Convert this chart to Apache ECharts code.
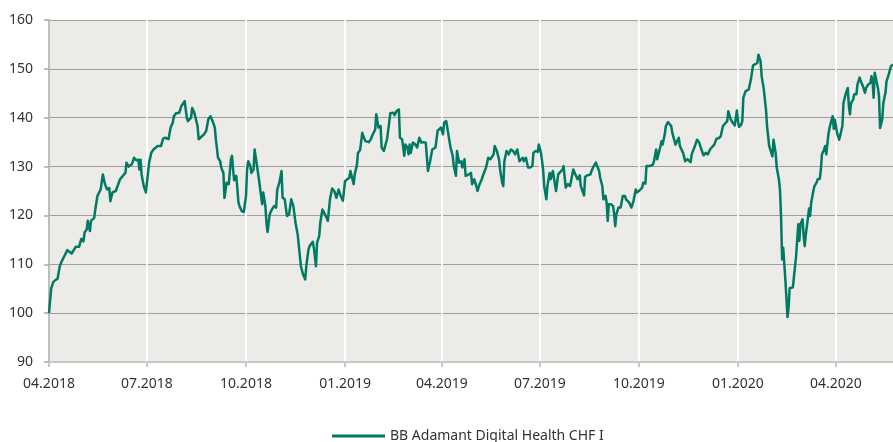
<!DOCTYPE html>
<html>
<head>
<meta charset="utf-8">
<script src="https://cdn.jsdelivr.net/npm/echarts@6/dist/echarts.min.js"></script>
<style>html,body{margin:0;padding:0;background:#fff}#c{width:893px;height:442px}</style>
</head>
<body>
<div id="c"></div>
<script>
const seriesName = 'BB Adamant Digital Health CHF I';
const startDate = '2018-04-01';
const endDate = '2020-05-24';
const yTicks = [90, 100, 110, 120, 130, 140, 150, 160];

const points2018 = [
['2018-04-01',100],['2018-04-03',105],['2018-04-05',106.4],['2018-04-09',107.1],['2018-04-11',109.6],['2018-04-13',110.7],['2018-04-16',112],['2018-04-18',112.9],['2018-04-22',112.2],['2018-04-26',113.6],['2018-04-29',113.6],['2018-04-30',113.4],
['2018-05-01',115.2],['2018-05-03',114.7],['2018-05-04',116.5],['2018-05-06',117.1],['2018-05-07',118.9],['2018-05-09',116.8],['2018-05-10',118.9],['2018-05-13',119.5],['2018-05-14',121.2],['2018-05-16',124],['2018-05-19',125.3],['2018-05-21',128.4],['2018-05-23',126.4],['2018-05-25',125.3],['2018-05-27',125.6],['2018-05-28',122.9],['2018-05-30',124.7],
['2018-06-02',125],['2018-06-06',127.4],['2018-06-09',128.2],['2018-06-11',128.7],['2018-06-12',130.8],['2018-06-14',130],['2018-06-17',130.5],['2018-06-19',131.8],['2018-06-21',131.3],['2018-06-23',131.4],['2018-06-24',129.4],['2018-06-25',131.4],['2018-06-26',128.4],['2018-06-28',126],['2018-06-30',124.7],
['2018-07-03',130.8],['2018-07-05',132.8],['2018-07-07',133.5],['2018-07-11',134.2],['2018-07-12',134.5],['2018-07-14',134.2],['2018-07-16',135.7],['2018-07-18',135.9],['2018-07-21',135.6],['2018-07-23',138],['2018-07-25',139],['2018-07-26',140.3],['2018-07-28',140.9],['2018-07-29',140.5],['2018-07-31',141],
['2018-08-02',142.4],['2018-08-05',143.4],['2018-08-07',140],['2018-08-08',139.3],['2018-08-11',140],['2018-08-12',142],['2018-08-14',141],['2018-08-15',140.7],['2018-08-17',138.3],['2018-08-18',135.6],['2018-08-21',136.2],['2018-08-23',136.6],['2018-08-25',137.3],['2018-08-27',139.7],['2018-08-29',140.3],['2018-08-31',139.3],
['2018-09-02',138],['2018-09-03',135.6],['2018-09-05',131.8],['2018-09-07',131.1],['2018-09-08',129.8],['2018-09-10',128.7],['2018-09-11',123.6],['2018-09-12',123.3],['2018-09-13',126.7],['2018-09-14',126.8],['2018-09-15',126.4],['2018-09-17',131.5],['2018-09-18',132.2],['2018-09-19',129.4],['2018-09-20',127.2],['2018-09-22',128.1],['2018-09-24',122.6],['2018-09-25',121.9],['2018-09-27',120.9],['2018-09-29',120.7],
['2018-10-01',124],['2018-10-02',129.4],['2018-10-03',131.1],['2018-10-05',130.1],['2018-10-06',128.7],['2018-10-08',129.4],['2018-10-09',133.5],['2018-10-11',130.5],['2018-10-13',127.4],['2018-10-15',124],['2018-10-16',122.3],['2018-10-17',124.7],['2018-10-19',121.9],['2018-10-20',118.5],['2018-10-21',116.6],['2018-10-23',120.2],['2018-10-25',121.2],['2018-10-27',121.9],['2018-10-29',121.6],['2018-10-30',125.3],
['2018-11-01',126.7],['2018-11-03',129.1],['2018-11-04',123.6],['2018-11-06',123.3],['2018-11-08',119.9],['2018-11-10',120.2],['2018-11-12',123.3],['2018-11-14',121.9],['2018-11-16',118.5],['2018-11-18',116.1],['2018-11-19',115.8],['2018-11-21',109.6],['2018-11-23',107.9],['2018-11-25',106.9],['2018-11-26',109.6],['2018-11-28',113],['2018-11-29',113.7],
['2018-12-02',114.6],['2018-12-03',113.4],['2018-12-05',109.6],['2018-12-06',114.4],['2018-12-08',115.8],['2018-12-09',118.5],['2018-12-11',121.2],['2018-12-12',121.6],['2018-12-15',119.5],['2018-12-16',118.9],['2018-12-18',123.3],['2018-12-20',125.5],['2018-12-22',125],['2018-12-24',123.6],['2018-12-26',125.3],['2018-12-28',124],['2018-12-30',123]
];

const points2019 = [
['2019-01-01',127],['2019-01-03',127.4],['2019-01-05',127.7],['2019-01-06',129.1],['2019-01-09',126.4],['2019-01-10',128.4],['2019-01-12',130.3],['2019-01-13',132.8],['2019-01-15',133.4],['2019-01-17',136.9],['2019-01-18',136.2],['2019-01-20',135.2],['2019-01-23',135],['2019-01-25',135.6],['2019-01-26',136.2],['2019-01-27',135.9],['2019-01-29',137.6],['2019-01-30',140.7],
['2019-02-01',138],['2019-02-03',138.3],['2019-02-04',133.9],['2019-02-06',133.2],['2019-02-07',133.4],['2019-02-09',135.6],['2019-02-11',139],['2019-02-12',140.9],['2019-02-15',141],['2019-02-16',140.5],['2019-02-18',141.4],['2019-02-20',141.7],['2019-02-21',135.9],['2019-02-23',135.6],['2019-02-24',135.2],['2019-02-25',132.2],['2019-02-26',134.5],['2019-02-28',133.9],
['2019-03-01',132.5],['2019-03-02',134.5],['2019-03-03',132.8],['2019-03-05',134.9],['2019-03-07',134.6],['2019-03-09',133.9],['2019-03-11',135.9],['2019-03-13',134.9],['2019-03-15',135],['2019-03-17',134.9],['2019-03-19',129.1],['2019-03-21',131.1],['2019-03-23',133.5],['2019-03-26',133.9],['2019-03-28',137.3],['2019-03-29',137.7],['2019-03-31',138],
['2019-04-02',136.6],['2019-04-03',139],['2019-04-05',139.3],['2019-04-06',139.2],['2019-04-08',135.2],['2019-04-09',133.9],['2019-04-11',132.2],['2019-04-12',130.1],['2019-04-14',128.1],['2019-04-15',133.2],['2019-04-17',130.8],['2019-04-19',131.1],['2019-04-20',129.8],['2019-04-22',131.5],['2019-04-23',128.1],['2019-04-26',128.4],['2019-04-28',128.7],['2019-04-29',126.4],
['2019-05-01',127.4],['2019-05-03',126],['2019-05-04',125],['2019-05-06',126.4],['2019-05-08',127.4],['2019-05-10',128.7],['2019-05-12',129.8],['2019-05-14',131.8],['2019-05-16',131.5],['2019-05-19',132.5],['2019-05-20',134.2],['2019-05-22',133.2],['2019-05-24',131.5],['2019-05-25',129.4],['2019-05-27',126.7],['2019-05-28',126],['2019-05-29',131.1],['2019-05-31',133.2],
['2019-06-02',132.5],['2019-06-04',133.5],['2019-06-06',133.2],['2019-06-08',132.5],['2019-06-10',133.5],['2019-06-12',131.1],['2019-06-13',130.8],['2019-06-15',131.8],['2019-06-16',131.1],['2019-06-18',131.8],['2019-06-20',129.8],['2019-06-22',129.8],['2019-06-24',130.1],['2019-06-25',132.8],['2019-06-27',133.2],['2019-06-29',133],['2019-06-30',134.5],
['2019-07-02',132.8],['2019-07-04',129.4],['2019-07-05',126],['2019-07-07',123.3],['2019-07-08',126],['2019-07-10',128.7],['2019-07-11',127.4],['2019-07-13',129.1],['2019-07-14',128.8],['2019-07-16',125],['2019-07-18',128.4],['2019-07-19',128.4],['2019-07-22',129.4],['2019-07-23',130.1],['2019-07-25',125.7],['2019-07-27',126.4],['2019-07-29',126],
['2019-08-01',129.4],['2019-08-03',128.4],['2019-08-05',127.4],['2019-08-07',128.2],['2019-08-08',126],['2019-08-09',125.7],['2019-08-11',124.1],['2019-08-12',127.9],['2019-08-14',128.2],['2019-08-17',128.4],['2019-08-18',129.1],['2019-08-20',130.1],['2019-08-22',130.8],['2019-08-23',130.5],['2019-08-25',129.1],['2019-08-26',127.7],['2019-08-28',126],['2019-08-29',123.3],['2019-08-31',124],
['2019-09-01',122.6],['2019-09-02',118.9],['2019-09-03',122.3],['2019-09-05',122.3],['2019-09-07',121.9],['2019-09-08',120.2],['2019-09-09',117.8],['2019-09-10',120.2],['2019-09-12',121.6],['2019-09-14',121.6],['2019-09-16',124],['2019-09-18',124],['2019-09-19',123.3],['2019-09-22',122.6],['2019-09-24',121.6],['2019-09-26',123],['2019-09-28',125.3],['2019-09-29',124.7],
['2019-10-01',125],['2019-10-04',125.7],['2019-10-05',126.7],['2019-10-07',126.5],['2019-10-08',130.1],['2019-10-11',130.1],['2019-10-14',130.4],['2019-10-15',131.1],['2019-10-17',133.5],['2019-10-18',131.5],['2019-10-19',131.2],['2019-10-21',134.2],['2019-10-22',135.2],['2019-10-23',134.5],['2019-10-25',136.6],['2019-10-26',138.3],['2019-10-28',139.1],['2019-10-29',138.8],['2019-10-31',138.3],
['2019-11-01',136.9],['2019-11-04',134.5],['2019-11-05',134.9],['2019-11-07',135.9],['2019-11-08',134.2],['2019-11-11',132.8],['2019-11-13',131.1],['2019-11-15',131.5],['2019-11-18',130.9],['2019-11-19',132.5],['2019-11-22',134.2],['2019-11-24',135.5],['2019-11-26',134.9],['2019-11-28',133.5],['2019-11-30',132.3],
['2019-12-02',132.8],['2019-12-04',132.5],['2019-12-06',133.5],['2019-12-08',134],['2019-12-10',134.5],['2019-12-12',135.7],['2019-12-14',135.8],['2019-12-16',136.2],['2019-12-18',138.3],['2019-12-19',138.6],['2019-12-22',139.3],['2019-12-23',141.3],['2019-12-25',139.8],['2019-12-27',139],['2019-12-29',138.4],['2019-12-31',141.5]
];

const points2020 = [
['2020-01-01',139.3],['2020-01-02',138.1],['2020-01-04',138.6],['2020-01-05',139.3],['2020-01-06',144.1],['2020-01-08',145.4],['2020-01-09',145.1],['2020-01-11',145.8],['2020-01-13',147.8],['2020-01-15',150.7],['2020-01-16',151.1],['2020-01-19',151.2],['2020-01-20',152.9],['2020-01-22',151.6],['2020-01-23',148.5],['2020-01-25',145.8],['2020-01-27',141.7],['2020-01-28',138.3],['2020-01-30',134.2],
['2020-02-02',132.1],['2020-02-03',135.5],['2020-02-04',135.9],['2020-02-05',132.8],['2020-02-06',129.8],['2020-02-08',127.4],['2020-02-09',125.3],['2020-02-10',119.9],['2020-02-11',111],['2020-02-12',113.4],['2020-02-13',113],['2020-02-14',106.9],['2020-02-16',99.2],['2020-02-17',101],['2020-02-18',105.1],['2020-02-19',105.5],['2020-02-21',105.3],['2020-02-22',104.9],['2020-02-24',111.7],['2020-02-26',118.2],['2020-02-27',114.8],['2020-02-28',118.2],
['2020-03-01',119.2],['2020-03-02',115.8],['2020-03-03',113.7],['2020-03-04',116.1],['2020-03-06',119.5],['2020-03-07',121.4],['2020-03-08',119.9],['2020-03-09',122.6],['2020-03-11',125],['2020-03-12',126],['2020-03-14',126.7],['2020-03-15',127.4],['2020-03-17',127.5],['2020-03-18',129.4],['2020-03-19',132.5],['2020-03-21',133.5],['2020-03-22',134.2],['2020-03-23',132.5],['2020-03-25',136.6],['2020-03-26',137.9],['2020-03-28',139.6],['2020-03-29',140.3],['2020-03-30',137.7],['2020-03-31',139.6],
['2020-04-02',136.9],['2020-04-04',135.5],['2020-04-05',135.2],['2020-04-07',138.3],['2020-04-08',143],['2020-04-09',143.4],['2020-04-10',144.8],['2020-04-12',146.1],['2020-04-13',142.4],['2020-04-14',140.7],['2020-04-15',143],['2020-04-17',143.7],['2020-04-18',144.8],['2020-04-20',144.8],['2020-04-21',146.8],['2020-04-23',148.2],['2020-04-24',147.5],['2020-04-26',146.5],['2020-04-28',145.1],['2020-04-29',146.1],
['2020-05-01',146.8],['2020-05-03',147.1],['2020-05-04',148.5],['2020-05-05',147.5],['2020-05-06',144.1],['2020-05-07',149.2],['2020-05-08',148.8],['2020-05-10',146.1],['2020-05-11',144.4],['2020-05-12',137.9],['2020-05-14',139.6],['2020-05-15',143],['2020-05-17',145.1],['2020-05-18',147.5],['2020-05-20',148.8],['2020-05-22',150.5],['2020-05-23',150.7],['2020-05-24',150.9]
];

// calendar-day categories
const categories = [];
(function () {
  const d = new Date(startDate + 'T00:00:00Z');
  const end = new Date(endDate + 'T00:00:00Z');
  while (d <= end) {
    categories.push(d.toISOString().slice(0, 10));
    d.setUTCDate(d.getUTCDate() + 1);
  }
})();
const catIndex = {};
categories.forEach((c, i) => { catIndex[c] = i; });
const allPoints = points2018.concat(points2019, points2020).map(p => [catIndex[p[0]], p[1]]);

const isQuarterStart = (idx, val) => /-(01|04|07|10)-01$/.test(val);
const FONT = '"Noto Sans", sans-serif';

const chart = echarts.init(document.getElementById('c'), null, { renderer: 'canvas' });
chart.setOption({
  animation: false,
  backgroundColor: '#ffffff',
  grid: { left: 49, right: 0, top: 20, bottom: 80, show: true, backgroundColor: '#ecebe7', borderWidth: 0, containLabel: false },
  legend: {
    show: true, left: 332, top: 429, padding: 0,
    icon: 'rect', itemWidth: 53, itemHeight: 3, itemGap: 10,
    textStyle: { fontFamily: FONT, fontSize: 14, color: '#333333', padding: [0, 0, 0, 0] },
    data: [seriesName]
  },
  xAxis: {
    type: 'category', data: categories, boundaryGap: false,
    axisLine: { show: true, lineStyle: { color: '#c8c8c8', width: 2 } },
    axisTick: { show: true, interval: isQuarterStart, length: 5, lineStyle: { color: '#c8c8c8', width: 2 } },
    axisLabel: {
      interval: isQuarterStart, margin: 15, fontFamily: FONT, fontSize: 14, color: '#333333',
      formatter: v => v.slice(5, 7) + '.' + v.slice(0, 4)
    },
    splitLine: { show: true, interval: isQuarterStart, lineStyle: { color: '#ffffff', width: 2 } }
  },
  yAxis: {
    type: 'value', min: yTicks[0], max: yTicks[yTicks.length - 1], interval: 10,
    axisLine: { show: true, lineStyle: { color: '#a8a8a8', width: 1.5 } },
    axisTick: { show: true, length: 5, lineStyle: { color: '#a8a8a8', width: 1.5 } },
    axisLabel: { margin: 16, fontFamily: FONT, fontSize: 14, color: '#333333' },
    splitLine: { show: true, lineStyle: { color: '#a09e9b', width: 1.2 } }
  },
  series: [{
    name: seriesName, type: 'line', data: allPoints, showSymbol: false, symbol: 'none',
    lineStyle: { color: '#007a62', width: 2.5, join: 'round' }, itemStyle: { color: '#007a62' },
    z: 5
  }]
});
</script>
</body>
</html>
